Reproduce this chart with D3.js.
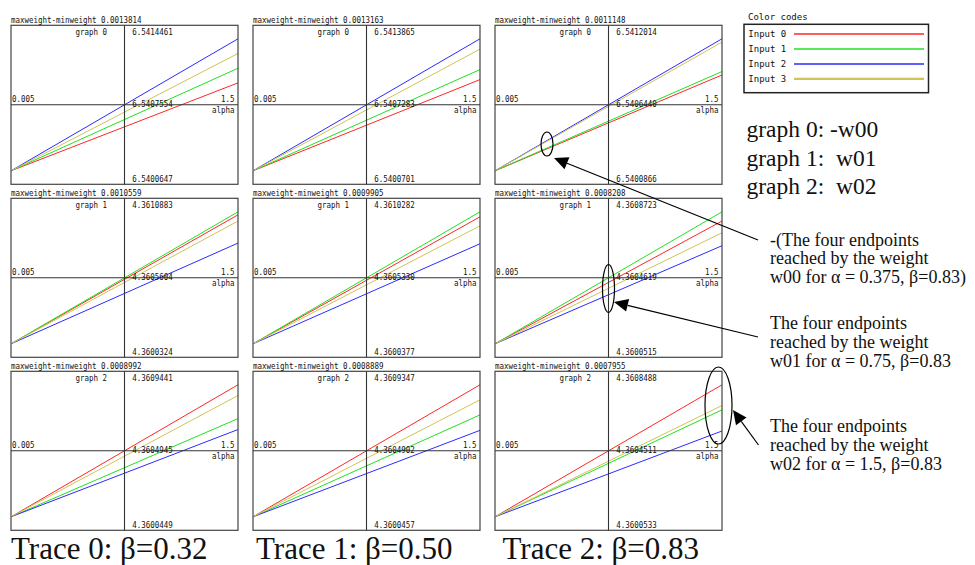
<!DOCTYPE html>
<html>
<head>
<meta charset="utf-8">
<script src="https://cdn.jsdelivr.net/npm/d3@7"></script>
<style>
  body { margin: 0; background: #fff; }
  svg { display: block; }
  .mono { font-family: "DejaVu Sans Mono", monospace; font-size: 8px; fill: #111; }
  .serif { font-family: "Liberation Serif", "Times New Roman", serif; fill: #111; white-space: pre; }
</style>
</head>
<body>
<svg id="chart" width="975" height="565"></svg>
<script>
// --- data ---
const traceLabels = ["Trace 0: β=0.32", "Trace 1: β=0.50", "Trace 2: β=0.83"];
const graphNames = ["graph 0", "graph 1", "graph 2"];
const inputNames = ["Input 0", "Input 1", "Input 2", "Input 3"];
const inputColors = ["#ff2626", "#22e022", "#2b2bff", "#cfc456"];
const alphaRange = [0.005, 1.5];

// rows = graph 0..2, columns = trace 0..2
const spreadLabels = [
  ["0.0013814", "0.0013163", "0.0011148"],
  ["0.0010559", "0.0009905", "0.0008208"],
  ["0.0008992", "0.0008889", "0.0007955"]
];
const minWeights = [
  [6.5400647, 6.5400701, 6.5400866],
  [4.3600324, 4.3600377, 4.3600515],
  [4.3600449, 4.3600457, 4.3600533]
];
const maxWeights = [
  [6.5414461, 6.5413865, 6.5412014],
  [4.3610883, 4.3610282, 4.3608723],
  [4.3609441, 4.3609347, 4.3608488]
];
const midLabels = [
  ["6.5407554", "6.5407283", "6.5406440"],
  ["4.3605604", "4.3605330", "4.3604619"],
  ["4.3604945", "4.3604902", "4.3604511"]
];
const topLabels = [
  ["6.5414461", "6.5413865", "6.5412014"],
  ["4.3610883", "4.3610282", "4.3608723"],
  ["4.3609441", "4.3609347", "4.3608488"]
];
const bottomLabels = [
  ["6.5400647", "6.5400701", "6.5400866"],
  ["4.3600324", "4.3600377", "4.3600515"],
  ["4.3600449", "4.3600457", "4.3600533"]
];
// weight reached at alpha = 1.5 for inputs 0..3
const endWeights = [
  [[6.5409847, 6.5411381, 6.5414461, 6.5412928],
   [6.5409797, 6.5410798, 6.5413865, 6.5412838],
   [6.5408959, 6.5409249, 6.5412014, 6.5411736]],
  [[4.3610640, 4.3610883, 4.3608381, 4.3610144],
   [4.3609907, 4.3610282, 4.3607885, 4.3609232],
   [4.3608148, 4.3608723, 4.3606614, 4.3607418]],
  [[4.3609441, 4.3607139, 4.3606393, 4.3608713],
   [4.3609347, 4.3607320, 4.3606280, 4.3608334],
   [4.3608488, 4.3606977, 4.3605704, 4.3607239]]
];

const svg = d3.select("#chart");

const panelW = 227, panelH = 159, colStep = 242, rowStep = 173;
const x0 = 11, y0 = 25.3, inset = 13.5;
const charW = 4.5;

function mono(g, str, x, y, anchor) {
  return g.append("text").attr("class", "mono")
    .attr("x", x).attr("y", y)
    .attr("text-anchor", anchor || "start")
    .attr("textLength", str.length * charW)
    .attr("lengthAdjust", "spacingAndGlyphs")
    .text(str);
}

const line = d3.line();

for (let r = 0; r < 3; r++) {
  for (let c = 0; c < 3; c++) {
    const left = x0 + c * colStep, top = y0 + r * rowStep;
    const g = svg.append("g");

    const x = d3.scaleLinear().domain(alphaRange).range([left, left + panelW]);
    const y = d3.scaleLinear().domain([minWeights[r][c], maxWeights[r][c]])
      .range([top + panelH - inset, top + inset]);

    const ax = left + panelW / 2, ay = top + panelH / 2;

    // series
    endWeights[r][c].forEach((w, i) => {
      g.append("path")
        .attr("d", line([[x(alphaRange[0]), y(minWeights[r][c])], [x(alphaRange[1]), y(w)]]))
        .attr("fill", "none")
        .attr("stroke", inputColors[i])
        .attr("stroke-width", 1);
    });

    // frame + axes
    g.append("rect").attr("x", left).attr("y", top)
      .attr("width", panelW).attr("height", panelH)
      .attr("fill", "none").attr("stroke", "#444").attr("stroke-width", 1.2);
    g.append("line").attr("x1", ax).attr("x2", ax).attr("y1", top).attr("y2", top + panelH)
      .attr("stroke", "#333").attr("stroke-width", 1.1);
    g.append("line").attr("x1", left).attr("x2", left + panelW).attr("y1", ay).attr("y2", ay)
      .attr("stroke", "#333").attr("stroke-width", 1.1);

    // labels
    mono(g, "maxweight-minweight " + spreadLabels[r][c], left, top - 2.6);
    mono(g, graphNames[r], ax - 17.5, top + 10, "end");
    mono(g, topLabels[r][c], ax + 7.7, top + 10);
    mono(g, midLabels[r][c], ax + 7.7, ay + 2.2);
    mono(g, bottomLabels[r][c], ax + 7.7, top + panelH - 2);
    mono(g, String(alphaRange[0]), left + 1, ay - 2.5);
    mono(g, String(alphaRange[1]), left + panelW - 3.5, ay - 2.5, "end");
    mono(g, "alpha", left + panelW - 3.5, ay + 8.5, "end");
  }
}

// trace captions
[11, 256, 502.5].forEach((tx, i) => {
  svg.append("text").attr("class", "serif")
    .attr("x", tx).attr("y", 558.5)
    .attr("font-size", 31)
    .text(traceLabels[i]);
});

// legend
const lg = svg.append("g");
lg.append("text").attr("x", 748).attr("y", 20)
  .style("font-family", "DejaVu Sans Mono").style("font-size", "9px").attr("fill", "#111")
  .text("Color codes");
lg.append("rect").attr("x", 744).attr("y", 24.3).attr("width", 184.5).attr("height", 68.4)
  .attr("fill", "none").attr("stroke", "#222").attr("stroke-width", 1.5);
inputNames.forEach((n, i) => {
  const ly = 36.7 + i * 15;
  lg.append("text").attr("x", 748.3).attr("y", ly)
    .style("font-family", "DejaVu Sans Mono").style("font-size", "9px").attr("fill", "#111")
    .text(n);
  lg.append("line").attr("x1", 794).attr("x2", 924).attr("y1", ly - 2.8).attr("y2", ly - 2.8)
    .attr("stroke", inputColors[i]).attr("stroke-width", i === 3 ? 2.2 : 1.5);
});

// graph key
["graph 0: -w00", "graph 1:  w01", "graph 2:  w02"].forEach((t, i) => {
  svg.append("text").attr("class", "serif")
    .attr("x", 746.5).attr("y", 136.7 + i * 28.8)
    .attr("font-size", 23.5)
    .text(t);
});

// annotations
const notes = [
  { lines: ["-(The four endpoints", "reached by the weight", "w00 for α = 0.375, β=0.83)"], y: 245.7,
    from: [758, 240], to: [554, 158], ell: [547, 144, 6, 12] },
  { lines: ["The four endpoints", "reached by the weight", "w01 for α = 0.75, β=0.83"], y: 329.3,
    from: [758, 337], to: [614, 302], ell: [608.5, 288.5, 6, 24] },
  { lines: ["The four endpoints", "reached by the weight", "w02 for α = 1.5, β=0.83"], y: 432.3,
    from: [758.5, 445], to: [733, 410], ell: [718.5, 405.5, 13.5, 38.5] }
];

notes.forEach(n => {
  const t = svg.append("text").attr("class", "serif").attr("font-size", 18);
  n.lines.forEach((s, i) => {
    t.append("tspan").attr("x", 770).attr("y", n.y + i * 18.6).text(s);
  });
  svg.append("ellipse").attr("cx", n.ell[0]).attr("cy", n.ell[1])
    .attr("rx", n.ell[2]).attr("ry", n.ell[3])
    .attr("fill", "none").attr("stroke", "#000").attr("stroke-width", 1.2);
  const [fx, fy] = n.from, [tx, ty] = n.to;
  const ang = Math.atan2(ty - fy, tx - fx);
  const L = 14, W = 6.5;
  const bx = tx - L * Math.cos(ang), by = ty - L * Math.sin(ang);
  svg.append("line").attr("x1", fx).attr("y1", fy).attr("x2", bx).attr("y2", by)
    .attr("stroke", "#000").attr("stroke-width", 1.2);
  svg.append("polygon")
    .attr("points", [
      [tx, ty],
      [bx + W * Math.sin(ang), by - W * Math.cos(ang)],
      [bx - W * Math.sin(ang), by + W * Math.cos(ang)]
    ].map(p => p.join(",")).join(" "))
    .attr("fill", "#000");
});
</script>
</body>
</html>
